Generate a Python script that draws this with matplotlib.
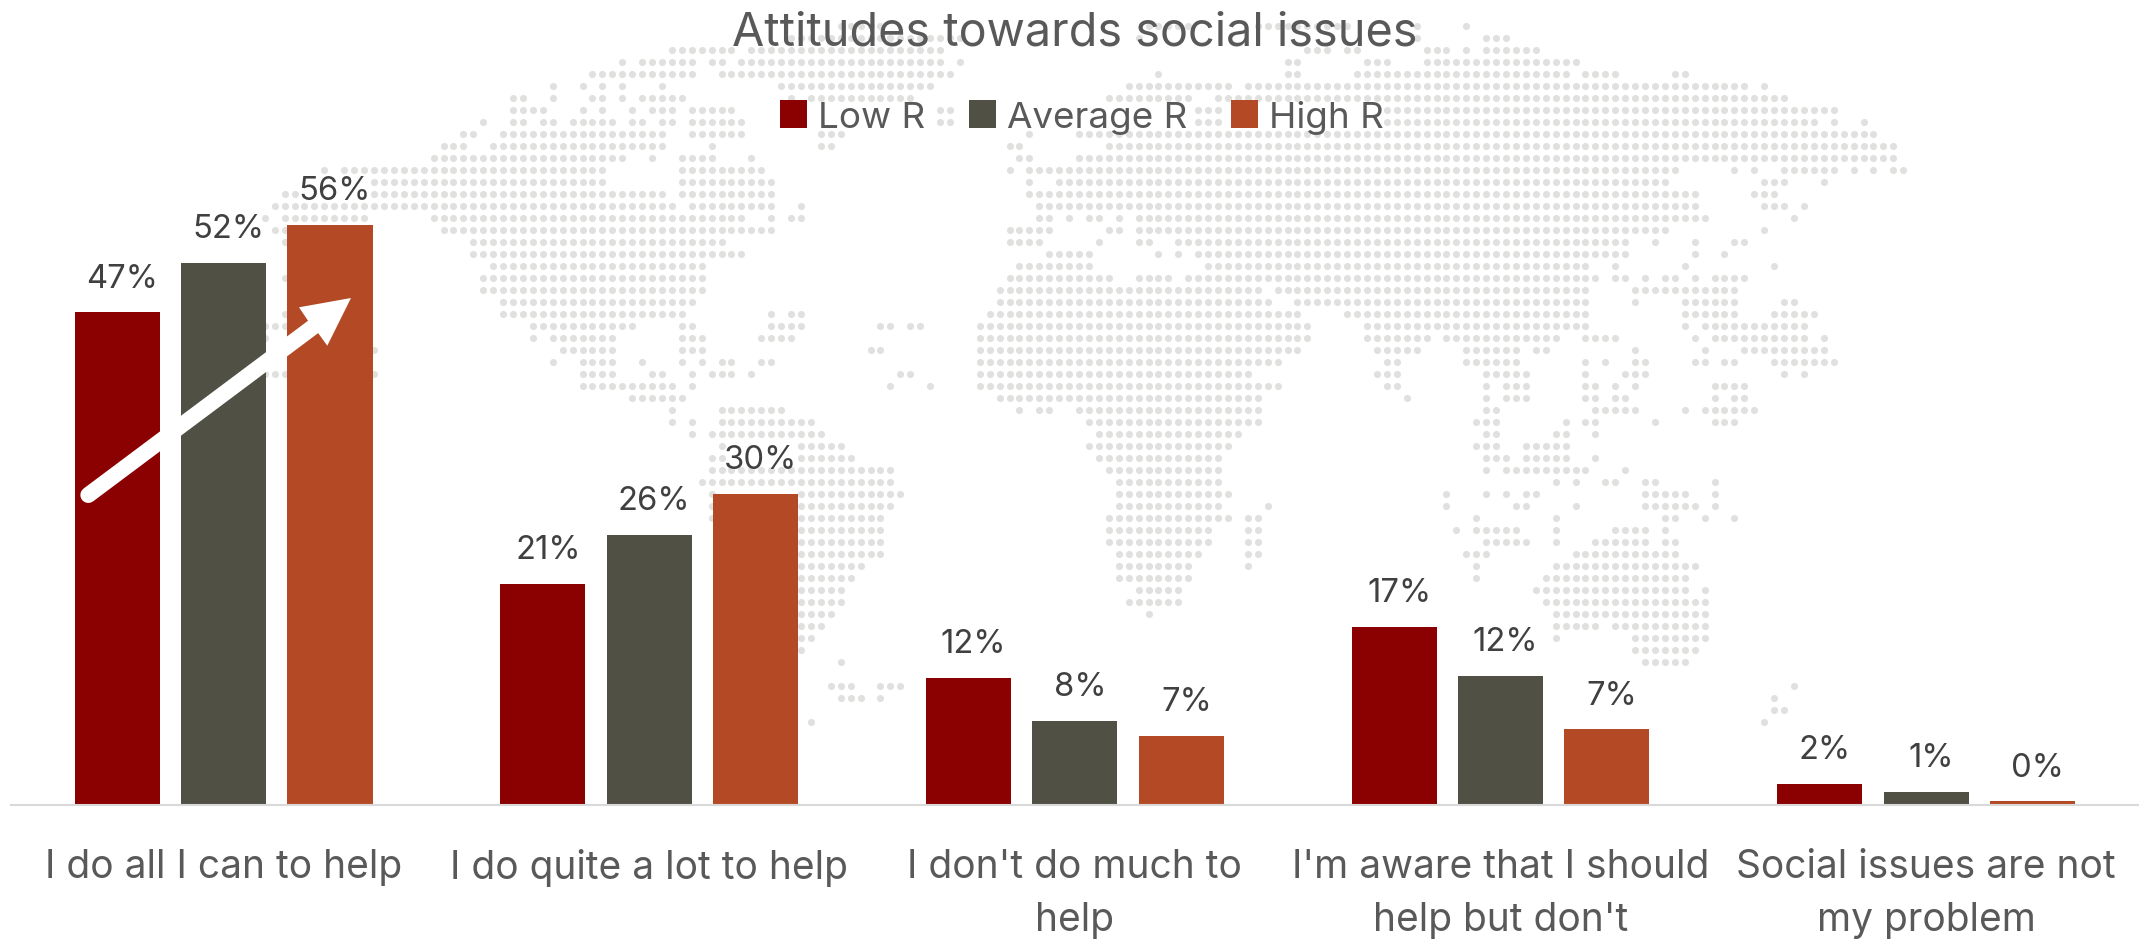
import numpy as np
import matplotlib
matplotlib.use('Agg')
import matplotlib.pyplot as plt
from matplotlib.patches import Polygon

W, H = 2139, 945
plt.rcParams['font.family'] = ['Inter', 'DejaVu Sans']

categories = ["I do all I can to help", "I do quite a lot to help",
              "I don't do much to\nhelp", "I'm aware that I should\nhelp but don't",
              "Social issues are not\nmy problem"]
low_r = [47.1, 21.1, 12.1, 17.0, 2.0]
average_r = [51.8, 25.8, 8.0, 12.3, 1.2]
high_r = [55.5, 29.7, 6.6, 7.2, 0.3]
series_names = ['Low R', 'Average R', 'High R']
colors = ['#8B0000', '#505045', '#B34A25']

# world map background, dotted grid: row -> occupied columns
map_rows = {
    0: "57-61 88-92 99-108 115 120",
    1: "52-69 87 115 122-124",
    2: "40-46 48-67 104-106 108 109 116-118 120 122-127",
    3: "35 37-42 44 45 47-67 69 102 103 110-112 116-131",
    4: "32-42 45-68 89 102 103 109-130 132-135 141 142",
    5: "28 31 33 35 39 51-66 86-96 98-148 150",
    6: "24 25 28 32 33 35 37-41 52 54-64 84-92 95-152",
    7: "24-27 31 33 36 38-40 42-46 67 68 93-95 112-157",
    8: "21 24 25 27 28 30-34 36 37 39 40 42-47 67 68 93-95 112-155 157 160",
    9: "19 20 23-39 42-47 55-57 76 81-161",
    10: "17-19 22-39 44 55 56 74 75 84-163",
    11: "16-35 38 41-44 48 75 76 81-163",
    12: "5 7-33 41-49 74 76-141 147 149 152-157 159 161 163 164",
    13: "10-33 41-50 76 79-140 150-152 156",
    14: "1 2 10-39 41-50 76-143 149-151",
    15: "0-40 42-50 53 77-143 150-152 154",
    16: "-1 1-9 16-47 50 52 53 77 78 80 82 83 85 87-144 153",
    17: "0 1 17-50 74-78 84 85 87-140 150",
    18: "1 20-45 74-77 83 87 88 91-136 139 143 147 148",
    19: "20-47 78-82 89 91 93-136 143 146",
    20: "22-43 75-82 94-132 135 142 151",
    21: "1 21-43 74-84 87-90 92-133 135 136 138 140 141 143 145-148",
    22: "21-43 73-99 101-132 137-147",
    23: "23-42 73-100 103-132 137 142-147 152 153",
    24: "1 23-41 50 52 53 72-103 108-132 142-147 151-155",
    25: "-1 0 1 26-36 41 42 50-53 61 62 64 65 71-104 110-132 142 144-154",
    26: "-1 26 28-34 41-43 49-52 71-104 110-116 118-129 132-135 143 145-154 156",
    27: "10 29-34 41-43 60 61 71-103 111-115 120-125 127 128 137 144 148-156",
    28: "28 31-34 37 41 43 45 46 49 50 71-101 112 113 120-125 132 134 137 138 143 144 146 147 151-157",
    29: "-1 0 1 10 31-34 38 39 42 44-46 48 63 64 71-98 111-113 122-126 132 136-138 152 154",
    30: "31-40 42 62 66 71-101 112 113 122 124-126 132 133 135 137 145-148",
    31: "36-41 73-99 114 122 124-126 132 133 135 136 145 147 148",
    32: "40 45-51 75 77 78 81-99 122 123 133-137 142 144-149",
    33: "40 42 45-54 82-99 121-123 130 132 133 139 145-147",
    34: "42 44-55 83-97 122 123 129 130 133",
    35: "45 53-57 82-96 121-123 126-130",
    36: "44 45 53-58 83-95 122-124 126-130 133",
    37: "44-62 84-95 122 124-132 136",
    38: "43-62 85-95 129 131 134 135 138 139 145",
    39: "44 53-63 85-96 118 122 124 126 127 138-142 145",
    40: "44 53-62 85-95 100 118 125 126 131 138-143 145",
    41: "44 53-61 84-96 98 99 121 129 140 141 144 147",
    42: "53-61 84-94 98 99 119 121-125 129 135-138 140",
    43: "53-61 84-94 98 99 122-126 129 133-138 140 141",
    44: "53-61 85-93 98 99 120-122 131-141",
    45: "53-59 85-92 98 121 129-143",
    46: "53-58 85-92 121 128-142",
    47: "53-57 87-91 127-142 144",
    48: "53-57 86-91 128-144",
    49: "53-56 88 129-144",
    50: "53-55 129-133 135-144",
    51: "53 54 129 137-144",
    52: "53 137-143",
    53: "57 138-142",
    55: "56-58 61-63 153",
    56: "57-59 61 151",
    57: "151 152",
    58: "54 150",
}


def parse_cols(text):
    cols = []
    for part in text.split():
        if '-' in part[1:]:
            a, b = part.split('-')
            cols.extend(range(int(a), int(b) + 1))
        else:
            cols.append(int(part))
    return cols


fig = plt.figure(figsize=(W / 100, H / 100), dpi=100, facecolor='white')

# dots sit on a 9.93 x 12 px grid
bg = fig.add_axes([0, 0, 1, 1], zorder=0)
bg.set_xlim(-274.7 / 9.93, (W - 274.7) / 9.93)
bg.set_ylim((H - 26.7) / 12, -26.7 / 12)
bg.axis('off')
xs, ys = [], []
for row, text in map_rows.items():
    cols = parse_cols(text)
    xs.extend(cols)
    ys.extend([row] * len(cols))
bg.scatter(xs, ys, s=26, color='#E0E0DF', linewidths=0)

base = 805.5
ax = fig.add_axes([10.7 / W, (H - base) / H, (W - 10.7) / W, (base - 100) / H], zorder=1)
ax.patch.set_alpha(0)

x = np.arange(len(categories))
width = 0.2
step = 0.25
for i, (values, name, color) in enumerate(zip([low_r, average_r, high_r], series_names, colors)):
    pos = x + (i - 1) * step
    ax.bar(pos, values, width, color=color, label=name)
    for p, v in zip(pos, values):
        ax.annotate(f'{v:.0f}%', (p, v), xytext=(3.6, 18.5), textcoords='offset points',
                    ha='center', va='baseline', fontsize=23.6, color='#404040')

ax.set_xlim(-0.5, len(categories) - 0.5)
ax.set_ylim(0, (base - 100) / 10.45)
ax.set_yticks([])
ax.set_xticks(x)
ax.set_xticklabels(categories, fontsize=28, color='#595959', linespacing=1.58)
ax.tick_params(axis='x', length=0, pad=31)
for side in ['top', 'left', 'right']:
    ax.spines[side].set_visible(False)
ax.spines['bottom'].set_color('#D9D9D9')
ax.spines['bottom'].set_linewidth(1.5)

ax.set_title('Attitudes towards social issues', fontsize=33.7, color='#595959', pad=39)

ax.legend(loc='center', bbox_to_anchor=(1082 / W, (H - 118) / H), bbox_transform=fig.transFigure,
          ncol=3, frameon=False, fontsize=26.5, labelcolor='#595959', handlelength=0.72,
          handleheight=0.8, handletextpad=0.3, columnspacing=1.2, borderpad=0, borderaxespad=0)

# white trend arrow across the first group
over = fig.add_axes([0, 0, 1, 1], zorder=2)
over.set_xlim(0, W)
over.set_ylim(H, 0)
over.axis('off')
over.plot([88.3, 313], [496, 328], color='white', lw=11.5, solid_capstyle='round')
over.add_patch(Polygon([(351, 299), (299, 308.3), (308, 321.7), (318.3, 334.3), (327.3, 346.7)],
                       closed=True, facecolor='white', edgecolor='none'))

fig.savefig('out.png', dpi=100)
